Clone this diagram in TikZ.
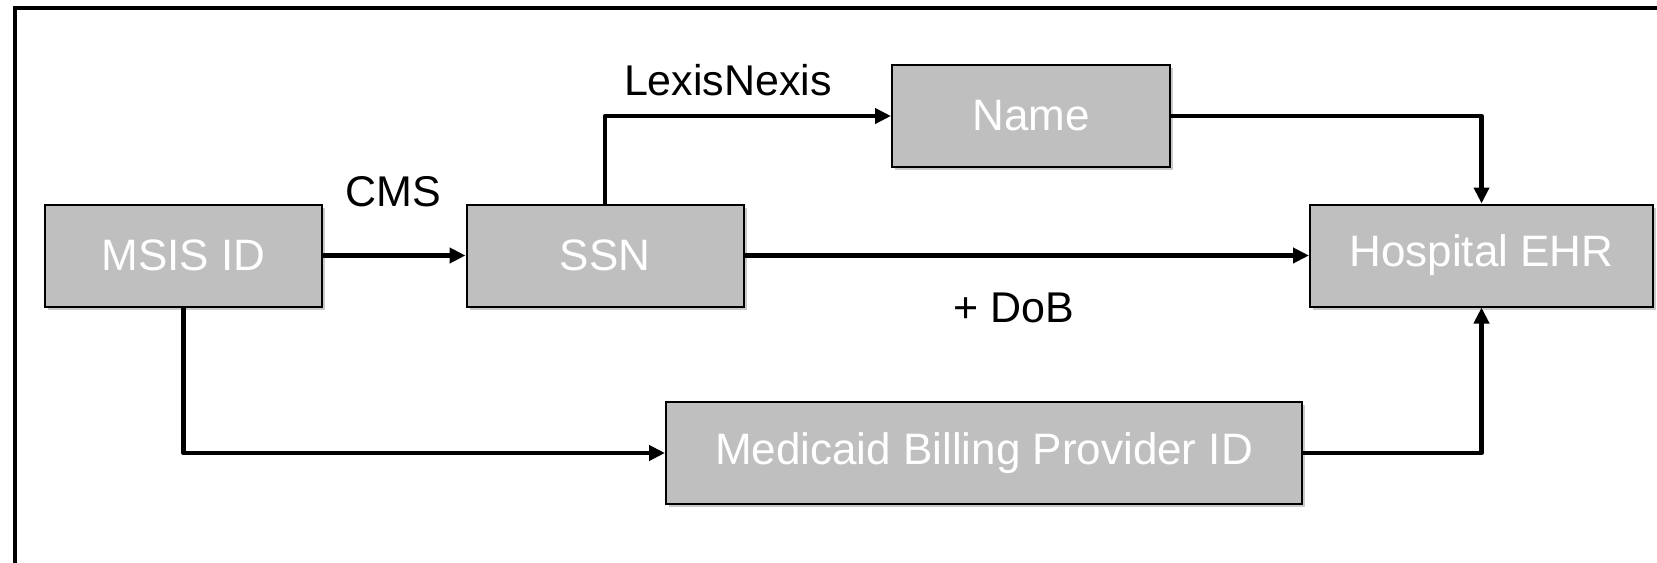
\documentclass[tikz,border=0pt]{standalone}
\usepackage{fontspec}
\setmainfont{Liberation Sans}
\usetikzlibrary{arrows.meta,shadows}

\definecolor{boxgray}{HTML}{BFBFBF}
\tikzset{
  idbox/.style={draw=black, line width=1pt, fill=boxgray,
    minimum height=51pt, inner sep=0pt,
    font=\fontsize{22}{26}\selectfont, text=white,
    drop shadow={shadow xshift=1.5pt, shadow yshift=-1.5pt, opacity=0.35, fill=black!60}},
  flow/.style={line width=2.2pt, line join=round,
    -{Triangle[length=8pt,width=7.5pt]}},
  tag/.style={font=\fontsize{21.5}{25}\selectfont, text=black, inner sep=0pt},
}

\begin{document}
\begin{tikzpicture}[x=0.5pt,y=-0.5pt]
  \useasboundingbox (0,0) rectangle (1657,562);
  \clip (0,0) rectangle (1657,562);

  % outer frame, running past the right and bottom edges
  \draw[line width=2pt] (15,700) -- (15,8) -- (1800,8);

  % identifier boxes
  \node[idbox, minimum width=138.5pt] (msis) at (183.5,255.5) {MSIS ID};
  \node[idbox, minimum width=138.5pt] (ssn)  at (605,255.5)   {SSN};
  \node[idbox, minimum width=139pt]   (name) at (1031,116)    {Name};
  \node[idbox, minimum width=171.5pt] (ehr)  at (1481.5,255.5) {Hospital EHR};
  \node[idbox, minimum width=318pt]   (mbp)  at (984,453)     {Medicaid Billing Provider ID};

  % link labels
  \node[tag] (cms)   at (393,192)  {CMS};
  \node[tag] (lexis) at (728,80)   {LexisNexis};
  \node[tag] (dob)   at (1014,308) {+ DoB};

  % connectors
  \draw[flow] (msis.east) -- (ssn.west);
  \draw[flow] (ssn.north) |- (name.west);
  \draw[flow] (name.east) -| (ehr.north);
  \draw[flow] (ssn.east) -- (ehr.west);
  \draw[flow] (msis.south) |- (mbp.west);
  \draw[flow] (mbp.east) -| (ehr.south);
\end{tikzpicture}
\end{document}
